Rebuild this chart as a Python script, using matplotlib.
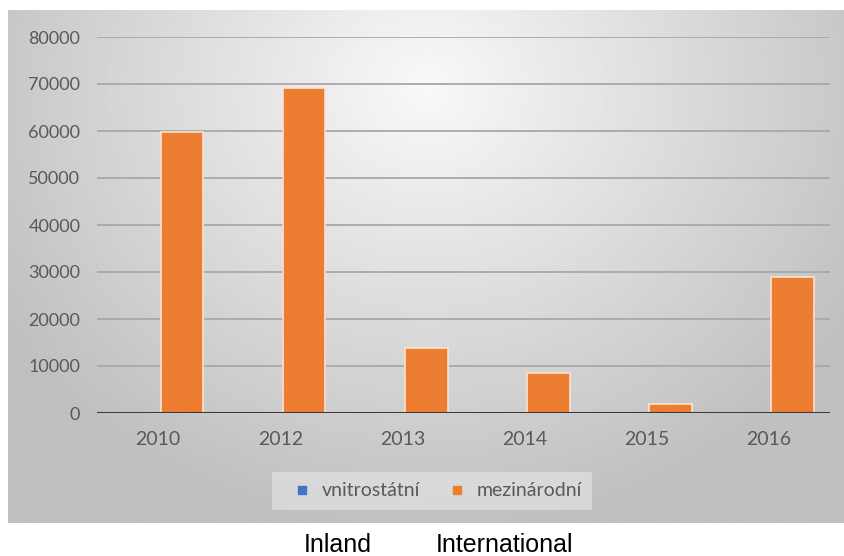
import numpy as np
import matplotlib
matplotlib.use("Agg")
import matplotlib.pyplot as plt
from matplotlib.lines import Line2D

# Data: passenger counts per year, domestic vs. international
years = ["2010", "2012", "2013", "2014", "2015", "2016"]
domestic = [0, 0, 0, 0, 0, 0]
international = [59800, 69100, 13800, 8600, 2000, 28900]
y_ticks = [0, 10000, 20000, 30000, 40000, 50000, 60000, 70000, 80000]

BLUE = "#4472C4"
ORANGE = "#ED7D31"
TICK_GRAY = "#595959"

fig = plt.figure(figsize=(8.45, 5.56), dpi=100)
fig.patch.set_facecolor("white")

# Chart panel with a radial grey gradient (light at top centre, darker edges)
W, H = 845, 556
px0, py0, px1, py1 = 8, 10, 845, 523
bg = fig.add_axes([px0 / W, 1 - py1 / H, (px1 - px0) / W, (py1 - py0) / H])
nx, ny = 400, 250
gx, gy = np.meshgrid(np.linspace(0, 1, nx), np.linspace(0, 1, ny))
r = np.sqrt(((gx - 0.5) / 0.72) ** 2 + ((gy - 0.15) / 1.05) ** 2)
shade = np.clip(0.975 - 0.27 * r, 0.75, 0.975)
bg.imshow(shade, cmap="gray", vmin=0, vmax=1, aspect="auto",
          extent=[0, 1, 0, 1], origin="upper", interpolation="bilinear")
bg.set_xlim(0, 1)
bg.set_ylim(0, 1)
bg.axis("off")

# Plot area
ax = fig.add_axes([97 / W, 1 - 413 / H, (830 - 97) / W, (413 - 37) / H])
ax.patch.set_alpha(0)

x = np.arange(len(years))
bw = 0.35
ax.bar(x - bw / 2 + 0.02, domestic, width=bw, color=BLUE, zorder=3)
ax.bar(x + bw / 2 + 0.02, international, width=bw, color=ORANGE,
       edgecolor="#fbe3d0", linewidth=1.2, zorder=3)

ax.set_xlim(-0.5, len(years) - 0.5)
ax.set_ylim(0, 80000)
ax.set_yticks(y_ticks)
ax.set_yticklabels([str(v) for v in y_ticks])
ax.set_xticks(x)
ax.set_xticklabels(years)

for v in y_ticks[1:]:
    ax.axhline(v, color="#a8a8a8", linewidth=1.3, zorder=1)
ax.axhline(0, color="#3a3a3a", linewidth=2.2, zorder=4)

for s in ax.spines.values():
    s.set_visible(False)
ax.tick_params(axis="y", length=0, labelsize=13, labelcolor=TICK_GRAY, pad=12)
ax.tick_params(axis="x", length=0, labelsize=14, labelcolor=TICK_GRAY, pad=13)
for lab in ax.get_xticklabels() + ax.get_yticklabels():
    lab.set_fontfamily("Lato")

# Legend box below the plot area
handles = [
    Line2D([], [], marker="s", linestyle="none", color=BLUE, markersize=6),
    Line2D([], [], marker="s", linestyle="none", color=ORANGE, markersize=6),
]
leg = fig.legend(handles, ["vnitrostátní", "mezinárodní"], loc="center",
                 bbox_to_anchor=(432 / W, 1 - 491 / H), ncol=2,
                 frameon=True, fancybox=False,
                 handletextpad=0.0, columnspacing=0.9, borderpad=0.55,
                 prop={"family": "Lato", "size": 14})
leg.get_frame().set_facecolor("#e2e2e2")
leg.get_frame().set_alpha(0.7)
leg.get_frame().set_edgecolor("none")
for t in leg.get_texts():
    t.set_color(TICK_GRAY)

# English captions under the chart
fig.text(338 / W, 1 - 545 / H, "Inland", ha="center", va="center",
         fontsize=18, family="Liberation Sans", color="black")
fig.text(505 / W, 1 - 545 / H, "International", ha="center", va="center",
         fontsize=18, family="Liberation Sans", color="black")

fig.savefig("out.png", dpi=100)
